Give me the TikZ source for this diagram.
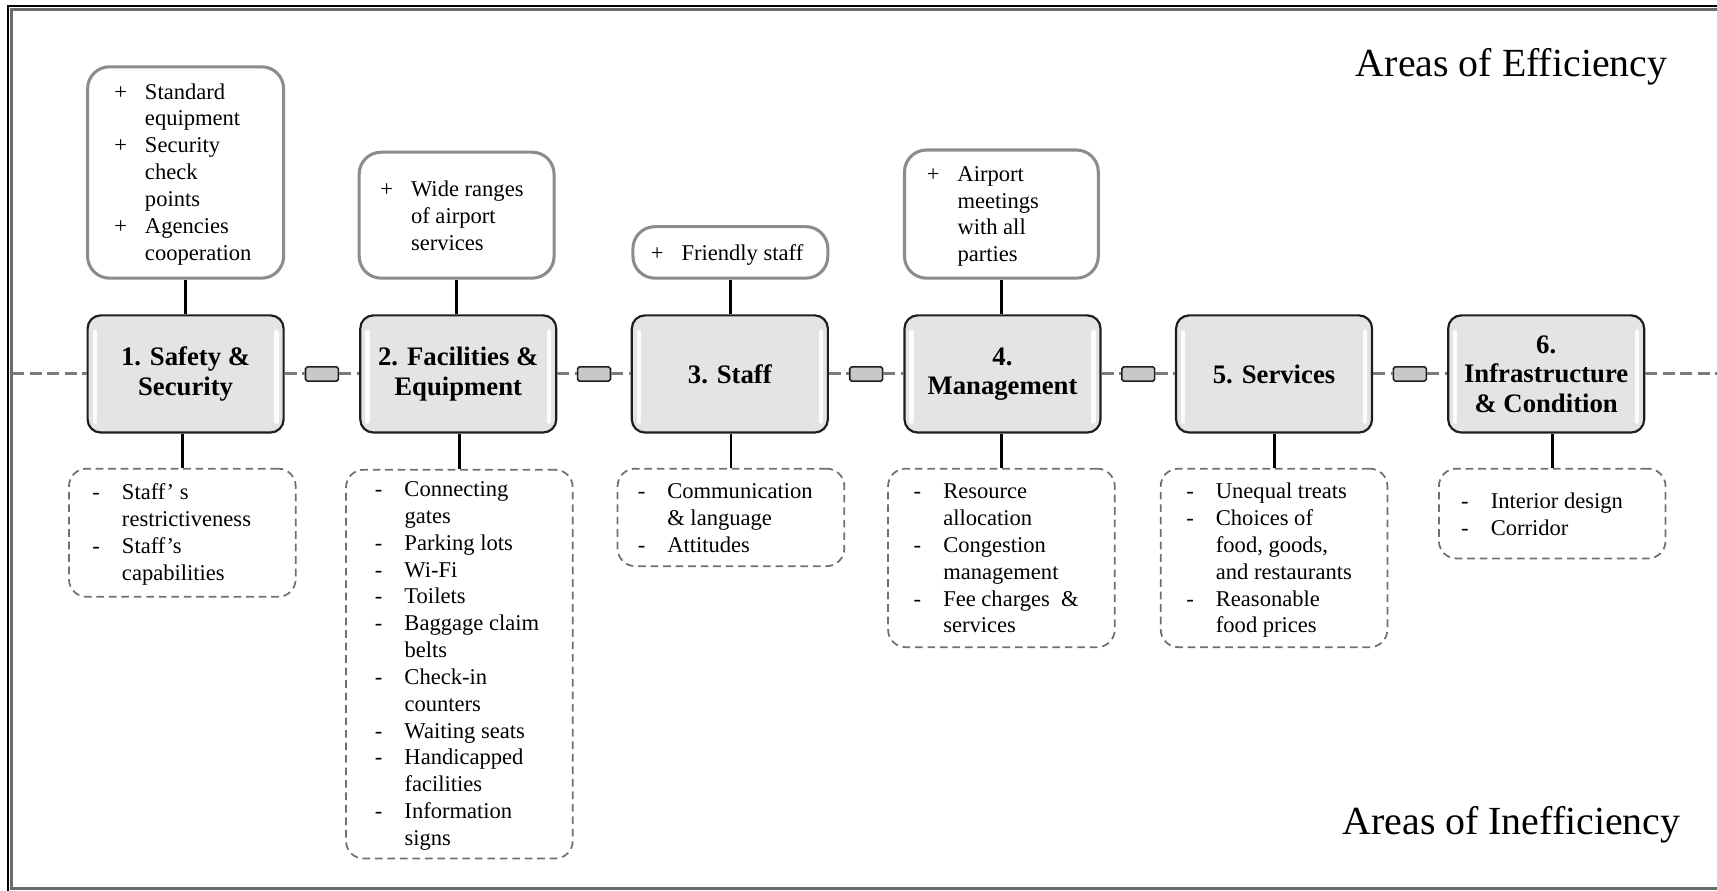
\documentclass[tikz,border=0pt]{standalone}
\usepackage{fontspec}
\setmainfont{Liberation Serif}
\usetikzlibrary{calc}

\definecolor{mainfill}{HTML}{E4E4E4}
\definecolor{mainedge}{HTML}{1E1E1E}
\definecolor{effedge}{HTML}{8C8C8C}
\definecolor{ineffedge}{HTML}{707070}
\definecolor{axisgray}{HTML}{7A7A7A}
\definecolor{linkfill}{HTML}{C8C8C8}
\definecolor{framegray}{HTML}{6A6A6A}

% list item markers with a hanging indent
\newcommand\pitem{\makebox[14pt][l]{+}}
\newcommand\pcont{\hspace*{14pt}}
\newcommand\mitem{\makebox[13.5pt][l]{-}}
\newcommand\mcont{\hspace*{13.5pt}}

\tikzset{
  mainbox/.style={draw=mainedge, line width=1pt, fill=mainfill,
    rounded corners=6pt, minimum width=89.5pt, minimum height=53.5pt,
    align=center, inner sep=2pt,
    font=\bfseries\fontsize{12.2}{13.5}\selectfont},
  gloss/.style={white, line width=2pt, line cap=round, opacity=0.9},
  effbox/.style={draw=effedge, line width=1.4pt, fill=white,
    rounded corners=10pt, inner sep=0pt},
  ineffbox/.style={draw=ineffedge, line width=0.8pt, dash pattern=on 3.5pt off 2.2pt,
    rounded corners=8pt, inner sep=0pt},
  listtxt/.style={anchor=base west, inner sep=0pt,
    font=\fontsize{10.3}{12.25}\selectfont},
  linkbox/.style={draw=mainedge, line width=0.7pt, fill=linkfill,
    rounded corners=0.8pt, minimum width=15pt, minimum height=6.5pt, inner sep=0pt},
  axis/.style={axisgray, line width=1.4pt, dash pattern=on 5.5pt off 2.5pt},
  stem/.style={black, line width=1.3pt},
  areatxt/.style={anchor=base east, inner sep=0pt,
    font=\fontsize{18.2}{20}\selectfont}
}

\begin{document}
\begin{tikzpicture}[x=0.5pt,y=-0.5pt]
\useasboundingbox (0,0) rectangle (1568,813);

% outer frame
\draw[framegray, line width=1.3pt] (1600,8.4) -- (10.2,8.4) -- (10.2,811.5) -- (1600,811.5);
\draw[black, line width=1pt] (1600,5.5) -- (7.3,5.5) -- (7.3,820);

% headings
\node[areatxt] (effhead) at (1523,70) {Areas of Efficiency};
\node[areatxt] (ineffhead) at (1535,762.5) {Areas of Inefficiency};

% the six areas
\node[mainbox] (m1) at (169.5,341.5) {1. Safety \&\\Security};
\node[mainbox] (m2) at (418.5,341.5) {2. Facilities \&\\Equipment};
\node[mainbox] (m3) at (666.5,341.5) {3. Staff};
\node[mainbox] (m4) at (915.5,341.5) {4.\\Management};
\node[mainbox] (m5) at (1163.5,341.5) {5. Services};
\node[mainbox] (m6) at (1412,341.5) {6.\\Infrastructure\\\& Condition};

% glossy edge highlights
\foreach \m in {m1,m2,m3,m4,m5,m6}{
  \draw[gloss] ($(\m.north west)+(7.5,16)$) -- ($(\m.south west)+(7.5,-11)$);
  \draw[gloss] ($(\m.north east)+(-7.5,16)$) -- ($(\m.south east)+(-7.5,-11)$);
}

% links between the areas
\node[linkbox] (c1) at (294,341.5) {};
\node[linkbox] (c2) at (542.5,341.5) {};
\node[linkbox] (c3) at (791,341.5) {};
\node[linkbox] (c4) at (1039.5,341.5) {};
\node[linkbox] (c5) at (1287.5,341.5) {};
\coordinate (axisL) at (11,341.5);
\coordinate (axisR) at (1568,341.5);

\draw[axis] (axisL) -- (m1.west);
\draw[axis] (m1.east) -- (c1.west);
\draw[axis] (c1.east) -- (m2.west);
\draw[axis] (m2.east) -- (c2.west);
\draw[axis] (c2.east) -- (m3.west);
\draw[axis] (m3.east) -- (c3.west);
\draw[axis] (c3.east) -- (m4.west);
\draw[axis] (m4.east) -- (c4.west);
\draw[axis] (c4.east) -- (m5.west);
\draw[axis] (m5.east) -- (c5.west);
\draw[axis] (c5.east) -- (m6.west);
\draw[axis] (m6.east) -- (axisR);

% efficiency boxes
\node[effbox, minimum width=89.5pt, minimum height=96.5pt] (t1) at (169.5,157.5) {};
\node[effbox, minimum width=89pt, minimum height=57.5pt] (t2) at (417,196.5) {};
\node[effbox, minimum width=89pt, minimum height=23.5pt] (t3) at (667,230.5) {};
\node[effbox, minimum width=88.5pt, minimum height=58.5pt] (t4) at (914.5,195.5) {};

\node[listtxt] (t1txt) at (104,90.5) {\begin{tabular}[t]{@{}l@{}}
  \pitem Standard\\ \pcont equipment\\ \pitem Security\\ \pcont check\\
  \pcont points\\ \pitem Agencies\\ \pcont cooperation\end{tabular}};
\node[listtxt] (t2txt) at (347,179.5) {\begin{tabular}[t]{@{}l@{}}
  \pitem Wide ranges\\ \pcont of airport\\ \pcont services\end{tabular}};
\node[listtxt] (t3txt) at (594,237.5) {\begin{tabular}[t]{@{}l@{}}
  \pitem Friendly staff\end{tabular}};
\node[listtxt] (t4txt) at (846,165.5) {\begin{tabular}[t]{@{}l@{}}
  \pitem Airport\\ \pcont meetings\\ \pcont with all\\ \pcont parties\end{tabular}};

\draw[stem] (t1.south) -- (t1.south |- m1.north);
\draw[stem] (t2.south) -- (t2.south |- m2.north);
\draw[stem] (t3.south) -- (t3.south |- m3.north);
\draw[stem] (t4.south) -- (t4.south |- m4.north);

% inefficiency boxes
\node[ineffbox, minimum width=103.5pt, minimum height=58.5pt] (b1) at (166.5,486.5) {};
\node[ineffbox, minimum width=103.5pt, minimum height=177.5pt] (b2) at (419.5,606.5) {};
\node[ineffbox, minimum width=103.5pt, minimum height=44.5pt] (b3) at (667.5,472.5) {};
\node[ineffbox, minimum width=103.5pt, minimum height=81.5pt] (b4) at (914.5,509.5) {};
\node[ineffbox, minimum width=103.5pt, minimum height=81.5pt] (b5) at (1163.5,509.5) {};
\node[ineffbox, minimum width=103.5pt, minimum height=41pt] (b6) at (1417.5,469) {};

\node[listtxt] (b1txt) at (84,456.5) {\begin{tabular}[t]{@{}l@{}}
  \mitem Staff’ s\\ \mcont restrictiveness\\ \mitem Staff’s\\ \mcont capabilities\end{tabular}};
\node[listtxt] (b2txt) at (342,453.5) {\begin{tabular}[t]{@{}l@{}}
  \mitem Connecting\\ \mcont gates\\ \mitem Parking lots\\ \mitem Wi-Fi\\
  \mitem Toilets\\ \mitem Baggage claim\\ \mcont belts\\ \mitem Check-in\\
  \mcont counters\\ \mitem Waiting seats\\ \mitem Handicapped\\ \mcont facilities\\
  \mitem Information\\ \mcont signs\end{tabular}};
\node[listtxt] (b3txt) at (582,455.5) {\begin{tabular}[t]{@{}l@{}}
  \mitem Communication\\ \mcont \& language\\ \mitem Attitudes\end{tabular}};
\node[listtxt] (b4txt) at (834,455.5) {\begin{tabular}[t]{@{}l@{}}
  \mitem Resource\\ \mcont allocation\\ \mitem Congestion\\ \mcont management\\
  \mitem Fee charges \ \&\\ \mcont services\end{tabular}};
\node[listtxt] (b5txt) at (1083,455.5) {\begin{tabular}[t]{@{}l@{}}
  \mitem Unequal treats\\ \mitem Choices of\\ \mcont food, goods,\\
  \mcont and restaurants\\ \mitem Reasonable\\ \mcont food prices\end{tabular}};
\node[listtxt] (b6txt) at (1334,464.5) {\begin{tabular}[t]{@{}l@{}}
  \mitem Interior design\\ \mitem Corridor\end{tabular}};

\draw[stem] (b1.north |- m1.south) -- (b1.north);
\draw[stem] (b2.north |- m2.south) -- (b2.north);
\draw[stem] (b3.north |- m3.south) -- (b3.north);
\draw[stem] (b4.north |- m4.south) -- (b4.north);
\draw[stem] (b5.north |- m5.south) -- (b5.north);
\draw[stem] (b6.north |- m6.south) -- (b6.north);
\end{tikzpicture}
\end{document}
